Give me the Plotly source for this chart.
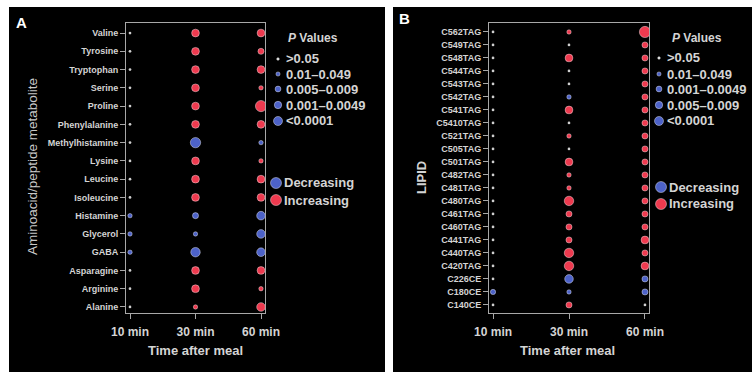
import plotly.graph_objects as go

W, H = 756, 374

# ---------------- data ----------------
times = ["10 min", "30 min", "60 min"]

amino_rows = ["Valine", "Tyrosine", "Tryptophan", "Serine", "Proline", "Phenylalanine",
              "Methylhistamine", "Lysine", "Leucine", "Isoleucine", "Histamine", "Glycerol",
              "GABA", "Asparagine", "Arginine", "Alanine"]
# significance level (1 = p>0.05 ... 5 = p<0.0001, fractional = in-between estimates)
amino_sig_10 = [1, 1, 1, 1, 1, 1, 1, 1, 1, 1, 2, 2, 2, 1, 1, 1]
amino_sig_30 = [4, 4, 4, 4, 4, 4, 5.5, 4, 4, 4, 3, 2, 5, 4, 4, 2]
amino_sig_60 = [4, 3, 4, 2, 6, 4, 2, 2, 4, 4, 4.5, 4.5, 4.5, 4, 2, 4.5]
# direction: +1 increasing, -1 decreasing, 0 not significant
amino_dir_10 = [0, 0, 0, 0, 0, 0, 0, 0, 0, 0, -1, -1, -1, 0, 0, 0]
amino_dir_30 = [1, 1, 1, 1, 1, 1, -1, 1, 1, 1, -1, -1, -1, 1, 1, 1]
amino_dir_60 = [1, 1, 1, 1, 1, 1, -1, 1, 1, 1, -1, -1, -1, 1, 1, 1]

lipid_rows = ["C562TAG", "C549TAG", "C548TAG", "C544TAG", "C543TAG", "C542TAG", "C541TAG",
              "C5410TAG", "C521TAG", "C505TAG", "C501TAG", "C482TAG", "C481TAG", "C480TAG",
              "C461TAG", "C460TAG", "C441TAG", "C440TAG", "C420TAG", "C226CE", "C180CE", "C140CE"]
lipid_sig_10 = [1] * 20 + [2.5, 1]
lipid_sig_30 = [2, 1, 4, 1, 1, 2, 4, 1, 2, 1, 4, 2, 2, 5, 3, 3, 3, 5, 5, 4.5, 2, 3]
lipid_sig_60 = [6, 3, 3, 3, 3, 3, 3, 3, 3, 3, 3, 3, 3, 3, 3, 3, 4, 3, 4, 3, 3, 1]
lipid_dir_10 = [0] * 20 + [-1, 0]
lipid_dir_30 = [1, 0, 1, 0, 0, -1, 1, 0, 1, 0, 1, 1, 1, 1, 1, 1, 1, 1, 1, -1, -1, 1]
lipid_dir_60 = [1] * 19 + [-1, -1, 0]

amino_legend = [">0.05", "0.01\u20130.049", "0.005\u20130.009", "0.001\u20130.0049", "<0.0001"]
lipid_legend = [">0.05", "0.01\u20130.049", "0.001\u20130.0049", "0.005\u20130.009", "<0.0001"]
legend_levels = [1, 2, 3, 4, 5]
direction_labels = ["Decreasing", "Increasing"]

# ---------------- styles ----------------
RED = "#ee3a4f"
BLUE = "#4d62c8"
GREY = "#cfcfcf"
TXT = "#d4d4d4"
FONT = "Liberation Sans"


def diam(level):
    return 1.0 + 1.7 * level


def colour(d):
    return RED if d > 0 else (BLUE if d < 0 else GREY)


def px_x(x):
    return x / W


def px_y(y):
    return 1 - y / H


fig = go.Figure()


def add_panel(rows, sigs, dirs, xa, ya):
    xs, ys, sz, cl, lc = [], [], [], [], []
    for ti, (s_col, d_col) in enumerate(zip(sigs, dirs)):
        for ri, (s, d) in enumerate(zip(s_col, d_col)):
            xs.append(ti)
            ys.append(ri)
            sz.append(diam(s))
            cl.append(colour(d))
            lc.append("rgba(255,255,255,0.5)" if d != 0 else "rgba(0,0,0,0)")
    fig.add_trace(go.Scatter(
        x=xs, y=ys, mode="markers", xaxis=xa, yaxis=ya, showlegend=False,
        marker=dict(size=sz, color=cl, opacity=1, line=dict(color=lc, width=0.8)),
        hoverinfo="skip"))


add_panel(amino_rows, [amino_sig_10, amino_sig_30, amino_sig_60],
          [amino_dir_10, amino_dir_30, amino_dir_60], "x", "y")
add_panel(lipid_rows, [lipid_sig_10, lipid_sig_30, lipid_sig_60],
          [lipid_dir_10, lipid_dir_30, lipid_dir_60], "x2", "y2")

axis_common = dict(showline=True, mirror=True, linecolor="#a8a8a8", linewidth=1,
                   showgrid=False, zeroline=False, ticks="outside", tickcolor="#a8a8a8",
                   ticklen=5, tickwidth=1, automargin=False)

ytop, ybot = 23, 313
fig.update_layout(
    template=None,
    width=W, height=H, autosize=False, margin=dict(l=0, r=0, t=0, b=0, pad=0),
    paper_bgcolor="white", plot_bgcolor="black", showlegend=False,
    xaxis=dict(domain=[px_x(126), px_x(265)], range=[-0.061, 2.061],
               tickvals=[0, 1, 2], ticktext=times, ticklabelstandoff=3,
               tickfont=dict(family=FONT, size=12, color=TXT, weight="bold"),
               anchor="y", **axis_common),
    yaxis=dict(domain=[px_y(ybot), px_y(ytop)], range=[15.33, -0.55],
               tickvals=list(range(len(amino_rows))), ticktext=amino_rows,
               tickfont=dict(family=FONT, size=9, color=TXT, weight="bold"),
               anchor="x", **axis_common),
    xaxis2=dict(domain=[px_x(489), px_x(649)], range=[-0.053, 2.053],
                tickvals=[0, 1, 2], ticktext=times, ticklabelstandoff=3,
                tickfont=dict(family=FONT, size=12, color=TXT, weight="bold"),
                anchor="y2", **axis_common),
    yaxis2=dict(domain=[px_y(ybot), px_y(ytop)], range=[21.62, -0.69],
                tickvals=list(range(len(lipid_rows))), ticktext=lipid_rows,
                tickfont=dict(family=FONT, size=9, color=TXT, weight="bold"),
                anchor="x2", **axis_common),
)

shapes = []
# black panels
for x0, x1 in [(9, 385), (393, 752)]:
    shapes.append(dict(type="rect", xref="paper", yref="paper", layer="below",
                       x0=px_x(x0), x1=px_x(x1), y0=px_y(372), y1=px_y(7),
                       fillcolor="black", line=dict(width=0)))


def circle(cx, cy, d, col):
    r = d / 2
    shapes.append(dict(type="circle", xref="paper", yref="paper",
                       xsizemode="pixel", ysizemode="pixel",
                       xanchor=px_x(cx), yanchor=px_y(cy),
                       x0=-r, x1=r, y0=-r, y1=r,
                       fillcolor=col, line=dict(color="rgba(255,255,255,0.5)", width=0.8),
                       layer="above"))


ann = []


def text(x, y, s, size=13, xanchor="left", bold=True, angle=0, color=TXT):
    ann.append(dict(x=px_x(x), y=px_y(y), xref="paper", yref="paper", text=s,
                    showarrow=False, xanchor=xanchor, yanchor="middle", textangle=angle,
                    font=dict(family=FONT, size=size, color=color,
                              weight="bold" if bold else "normal")))


# panel letters
text(21, 22, "A", size=15, xanchor="center", color="white")
text(404, 19, "B", size=15, xanchor="center", color="white")

# axis titles
text(195, 350, "Time after meal", size=13, xanchor="center")
text(567, 350, "Time after meal", size=13, xanchor="center")
text(32, 167, "Aminoacid/peptide metabolite", size=13.5, xanchor="center", bold=False, angle=-90,
     color="#c8c8c8")
text(421, 178, "LIPID", size=13, xanchor="center", angle=-90)


# legends
def legend(title_x, marker_x, text_x, item_ys, labels, dir_marker_x, dir_text_x, dir_ys):
    text(title_x, 38, "<i>P</i> Values", size=12, xanchor="center")
    for lab, lev, yy in zip(labels, legend_levels, item_ys):
        circle(marker_x, yy, diam(lev) * 0.95, BLUE if lev > 1 else GREY)
        text(text_x, yy, lab, size=13)
    for lab, col, yy in zip(direction_labels, [BLUE, RED], dir_ys):
        circle(dir_marker_x, yy, 11, col)
        text(dir_text_x, yy, lab, size=13)


legend(313, 278, 284, [59, 74, 89, 105, 121], amino_legend, 276, 282, [183, 200])
legend(697, 659, 665, [58, 74, 89, 105, 121], lipid_legend, 661, 667, [187, 204])

fig.update_layout(shapes=shapes, annotations=ann)

fig.write_html("out.html",
               config={"displayModeBar": False, "responsive": False},
               post_script="document.body.style.margin='0';document.body.style.overflow='hidden';")
